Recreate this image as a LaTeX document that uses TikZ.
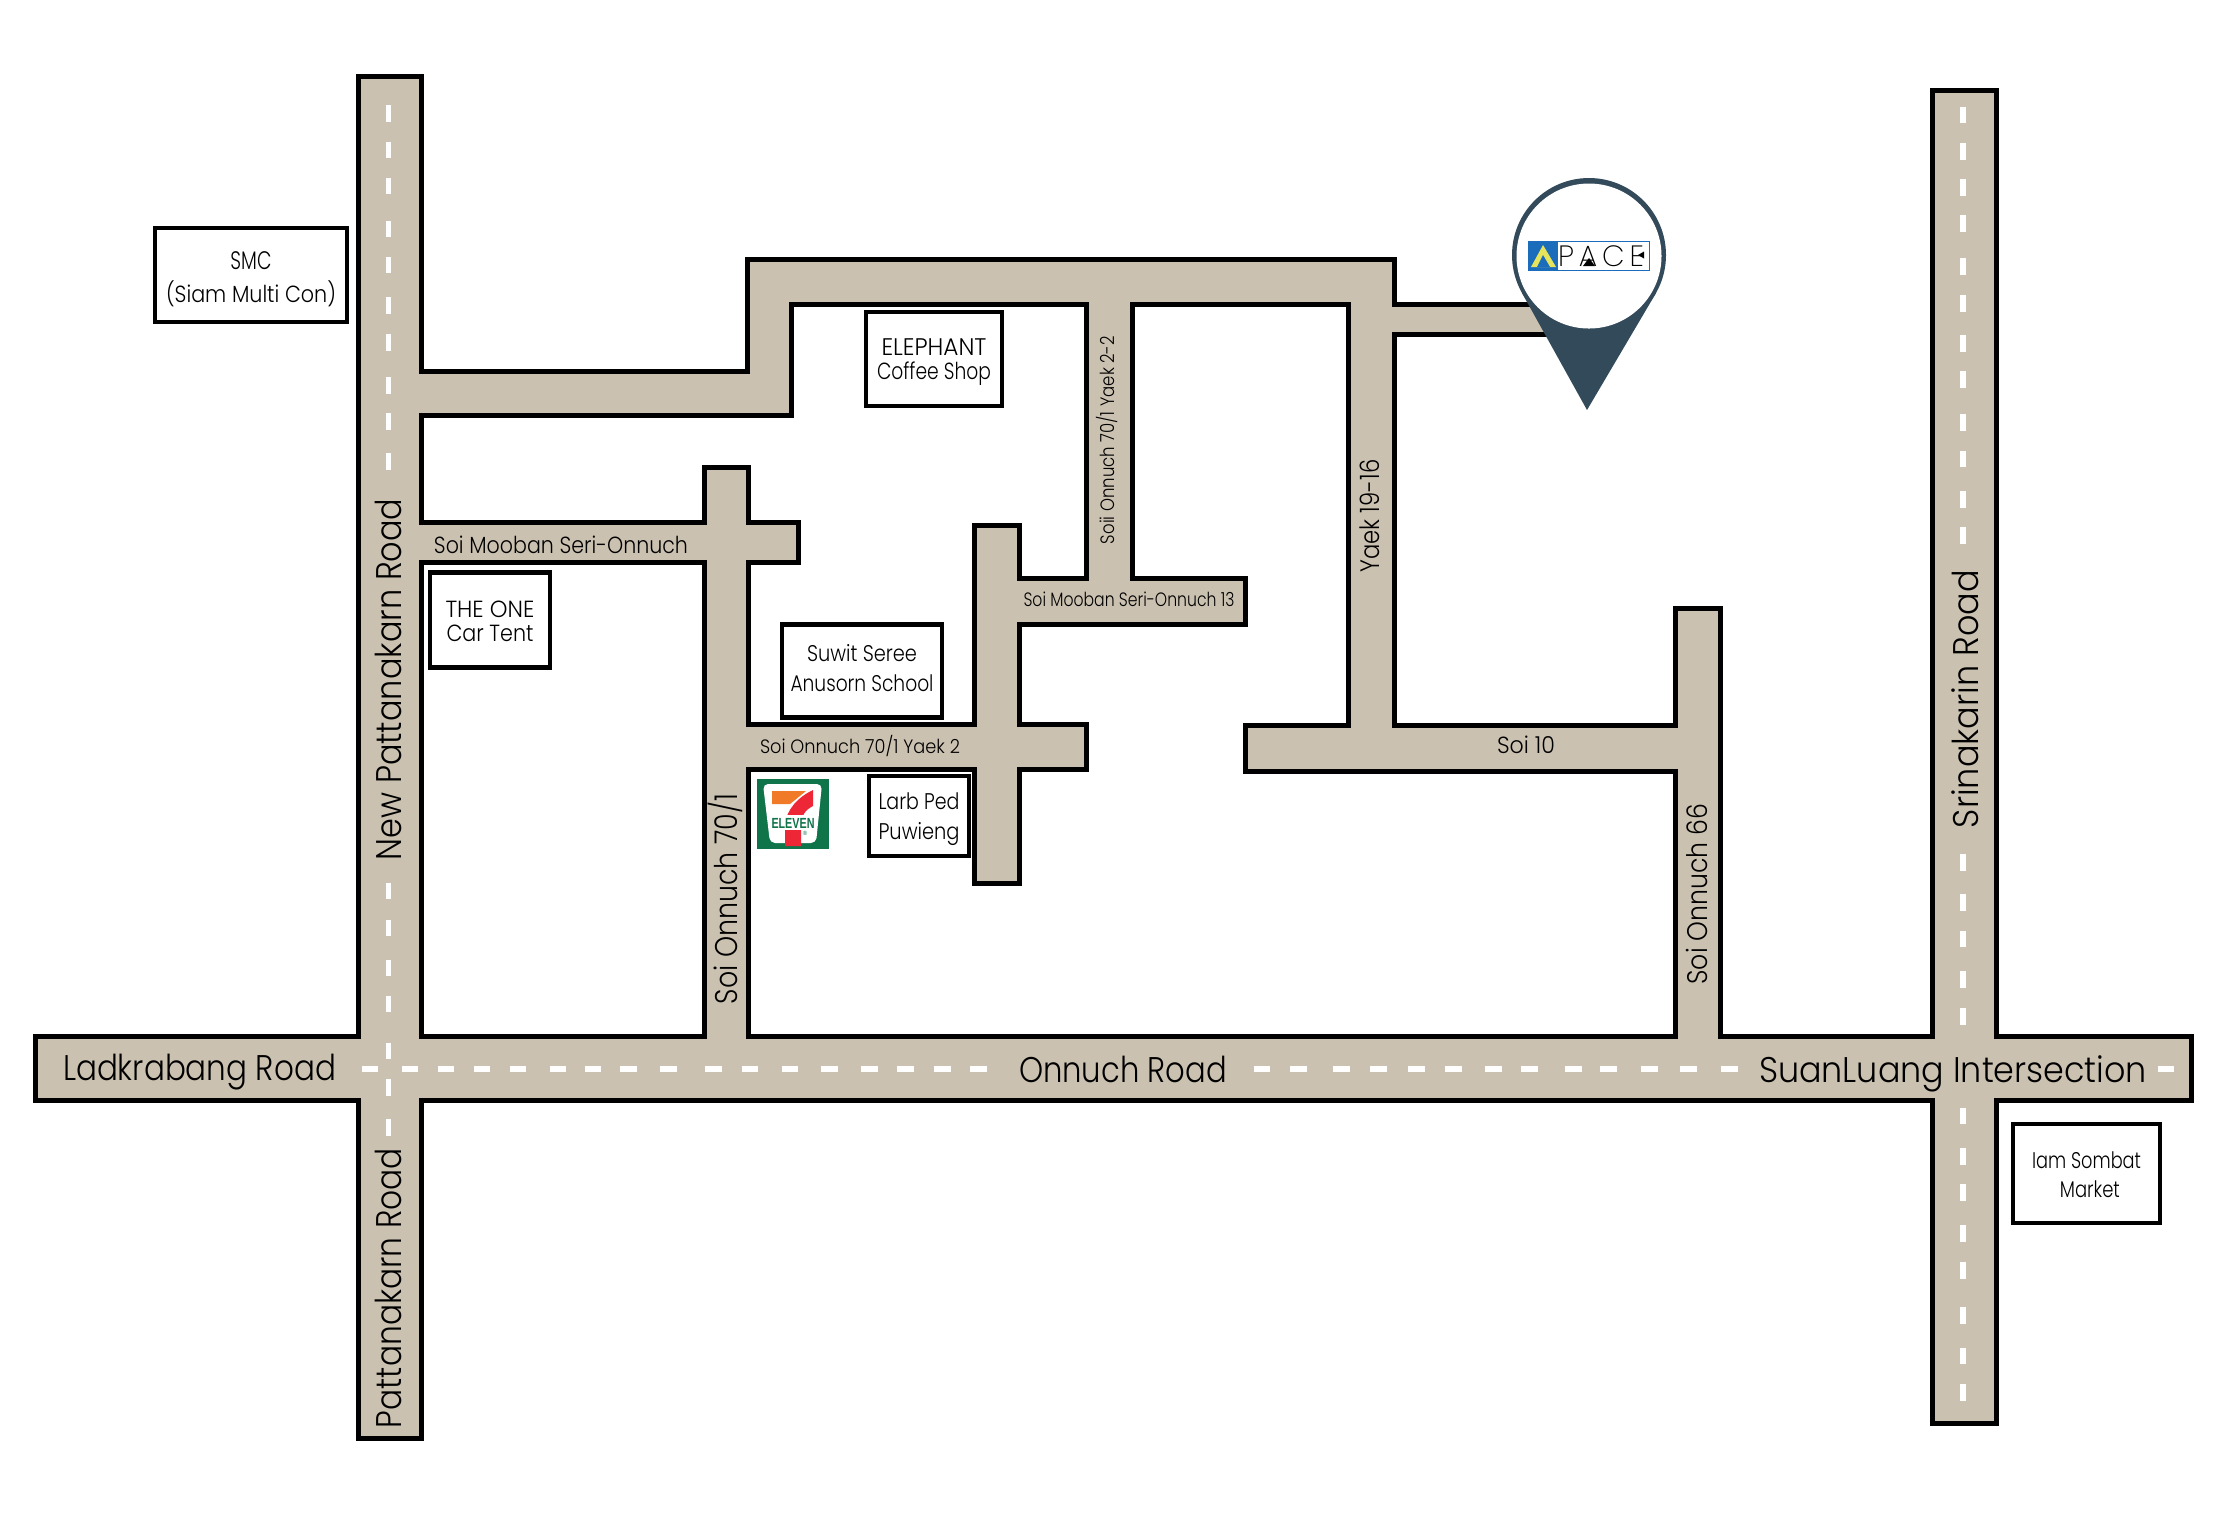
\documentclass[tikz,border=0pt]{standalone}
\usepackage{graphicx}
\usepackage{fontspec}
\setmainfont{Poppins}[UprightFont=*-Light,BoldFont=*-Medium]
\newfontfamily\logofont{Liberation Sans}
\newfontfamily\thinfont{Poppins}[UprightFont=*-ExtraLight]
\lineskiplimit=-30pt
\newsavebox\fitbox
\newlength\fitH
\newlength\fitW
% #1 width in picture px, #2 font size in pt, #3 text
\newcommand{\fit}[3]{{\fontsize{#2}{#2}\selectfont
  \sbox\fitbox{#3}\setlength\fitH{\ht\fitbox}\addtolength\fitH{\dp\fitbox}%
  \setlength\fitW{#1pt}\setlength\fitW{0.3\fitW}%
  \resizebox*{\fitW}{\fitH}{\usebox\fitbox}}}
\definecolor{roadtan}{HTML}{CBC1B0}
\definecolor{pinblue}{HTML}{334A5B}
\definecolor{sevengreen}{HTML}{0F7449}
\definecolor{sevenorange}{HTML}{F07A28}
\definecolor{sevenred}{HTML}{EE2737}
\definecolor{logoblue}{HTML}{1C6CBC}
\definecolor{logoyellow}{HTML}{E6E45A}
\tikzset{
  x=0.3pt,y=-0.3pt,
  roadedge/.style={draw=black,line width=1.5pt,fill=roadtan,line join=miter},
  roadfill/.style={fill=roadtan},
  lanemark/.style={draw=white,line width=1.6pt},
  placebox/.style={draw=black,line width=1.4pt,fill=white,inner sep=0pt,outer sep=0pt},
  placetext/.style={inner sep=0pt,outer sep=0pt,align=center,text=black},
  roadname/.style={anchor=base,inner sep=0pt,text=black},
  sideways/.style={roadname,rotate=90},
}
\def\roadlist{358/76/421/1438, 35/1036/2191/1100, 1932/90/1996/1423,
  400/371/791/415, 747/259/791/415, 747/259/1393/304, 1348/259/1394/771,
  1370/304/1600/334, 400/522/798/562, 704/467/748/1060, 720/724/1086/769,
  974/525/1019/883, 1000/578/1245/624, 1086/280/1132/600, 1245/725/1700/771,
  1675/608/1720/1060}
\begin{document}
\begin{tikzpicture}
\useasboundingbox (0,0) rectangle (2219,1525);
\fill[white] (0,0) rectangle (2219,1525);
% roads: edges first, then the insides, so crossings stay open
\foreach \a/\b/\c/\d in \roadlist {\draw[roadedge] (\a,\b) rectangle (\c,\d);}
\foreach \a/\b/\c/\d in \roadlist {\fill[roadfill] (\a+2.5,\b+2.5) rectangle (\c-2.5,\d-2.5);}
% lane marks, New Pattanakarn / Pattanakarn Road
\foreach \p/\q in {105/122,142/158,178/194,221/237,257/273,297/314,334/351,377/394,413/430,453/470,
  883/899,920/936,960/976,996/1012,1043/1059,1079/1096,1119/1136}
  {\draw[lanemark] (388.5,\p) -- (388.5,\q);}
% lane marks, Srinakarin Road
\foreach \p/\q in {107/123,143/160,179/196,215/232,258/275,295/312,335/352,371/388,414/431,451/467,491/508,527/544,
  854/871,894/911,931/947,971/988,1008/1025,1108/1124,1148/1165,1184/1201,1225/1242,1262/1279,1307/1324,1348/1364,1384/1401}
  {\draw[lanemark] (1963,\p) -- (1963,\q);}
% lane marks, Onnuch Road
\foreach \p/\q in {362/378,402/418,438/454,474/490,510/526,550/566,585/601,620/637,660/677,705/722,742/758,782/798,821/838,861/878,897/914,934/951,970/987,
  1254/1270,1290/1307,1333/1350,1370/1387,1408/1425,1445/1462,1485/1502,1521/1538,1565/1582,1600/1617,1641/1658,1680/1697,1721/1738,2158/2174}
  {\draw[lanemark] (\p,1069) -- (\q,1069);}
% road names
\node[roadname] (ladkrabang) at (199.5,1080.5) {\fit{273}{10.7}{Ladkrabang Road}};
\node[roadname] (onnuch) at (1123,1082) {\fit{208}{10.7}{Onnuch Road}};
\node[roadname] (suanluang) at (1953,1082) {\fit{388}{10.7}{SuanLuang Intersection}};
\node[sideways] (newpatt) at (401,679.5) {\fit{362}{10.7}{New Pattanakarn Road}};
\node[sideways] (patt) at (401,1288) {\fit{280}{10.7}{Pattanakarn Road}};
\node[sideways] (srinakarin) at (1978,699) {\fit{258}{10.7}{Srinakarin Road}};
\node[sideways] (soi701) at (737.5,899) {\fit{210}{9.4}{Soi Onnuch 70/1}};
\node[sideways] (soi66) at (1707,894) {\fit{181}{8.5}{Soi Onnuch 66}};
\node[sideways] (yaek1916) at (1379.5,516) {\fit{113}{8}{Yaek 19-16}};
\node[sideways] (soii) at (1114,440) {\fit{208}{5.8}{Soii Onnuch 70/1 Yaek 2-2}};
\node[roadname] (mooban) at (561,553) {\fit{254}{7}{Soi Mooban Seri-Onnuch}};
\node[roadname] (mooban13) at (1129,606) {\fit{211}{5.8}{Soi Mooban Seri-Onnuch 13}};
\node[roadname] (yaek2) at (860,753) {\fit{200}{5.8}{Soi Onnuch 70/1 Yaek 2}};
\node[roadname] (soi10) at (1526,753) {\fit{58}{7}{Soi 10}};
% places
\node[placebox,minimum width=57.6pt,minimum height=28.2pt,
  label={[placetext,yshift=-1.27pt,font=\fontsize{7}{9.9}\selectfont]center:{\fit{41}{7.6}{SMC}\\\fit{170}{7}{(Siam Multi Con)}}}] (smc) at (251,275) {};
\node[placebox,minimum width=40.8pt,minimum height=28.2pt,
  label={[placetext,yshift=-0.85pt,font=\fontsize{7}{7.2}\selectfont]center:{\fit{105}{7.2}{ELEPHANT}\\\fit{114}{7}{Coffee Shop}}}] (elephant) at (934,359) {};
\node[placebox,minimum width=36pt,minimum height=28.4pt,
  label={[placetext,yshift=-0.4pt,font=\fontsize{7}{7}\selectfont]center:{\fit{89}{7}{THE ONE}\\\fit{87}{7}{Car Tent}}}] (theone) at (490,620) {};
\node[placebox,minimum width=48pt,minimum height=28pt,
  label={[placetext,yshift=0.85pt,font=\fontsize{7}{9}\selectfont]center:{\fit{110}{6.8}{Suwit Seree}\\\fit{143}{6.8}{Anusorn School}}}] (suwit) at (862,671) {};
\node[placebox,minimum width=30pt,minimum height=24pt,
  label={[placetext,yshift=-0.85pt,font=\fontsize{7}{9}\selectfont]center:{\fit{81}{6.8}{Larb Ped}\\\fit{81}{6.8}{Puwieng}}}] (larb) at (919,816) {};
\node[placebox,minimum width=44.1pt,minimum height=29.7pt,
  label={[placetext,yshift=-0.4pt,font=\fontsize{7}{8.7}\selectfont]center:{\fit{109}{6.8}{Iam Sombat}\\\hspace*{2pt}\fit{60}{6.8}{Market}}}] (iam) at (2086.5,1173.5) {};
% 7-Eleven sign
\fill[sevengreen] (757,779) rectangle (829,849);
\fill[white,rounded corners=1.5pt] (763,784) -- (822,784) -- (816,843) -- (770,843) -- cycle;
\fill[sevenorange] (772,791) -- (806,791) -- (790,804) -- (772,804) -- cycle;
\fill[sevenred] (813,790) -- (813,806) .. controls (805,810) and (801,816) .. (801,826)
  -- (801,846) -- (785,846) -- (785,825) .. controls (786,810) and (798,797) .. (813,790) -- cycle;
\fill[white] (769,815) rectangle (816,830);
\node[roadname,text=sevengreen] (eleven) at (793,828) {\logofont\bfseries\fit{43}{4.4}{ELEVEN}};
\node[roadname,text=sevengreen] (regmark) at (805,835) {\logofont\fontsize{1.8}{2}\selectfont ®};
% location pin
\fill[pinblue] (1589,255) circle[radius=77];
\fill[pinblue] (1522,293) -- (1587,410) -- (1656,293) -- (1589,255) -- cycle;
\fill[white] (1589,256) circle[radius=72.5];
% logo
\draw[draw=logoblue,line width=0.3pt,fill=white] (1528,241) rectangle (1649,270);
\fill[logoblue] (1528,241) rectangle (1558,270);
\fill[logoyellow] (1543,245) -- (1556,267) -- (1531,267) -- cycle;
\fill[logoblue] (1543,255) -- (1550,267) -- (1537,267) -- cycle;
\node[roadname] (pace) at (1601,266) {\thinfont\fit{86}{8.8}{P\hspace{1.5pt}A\hspace{1.5pt}C\hspace{1.5pt}E}};
\fill[black] (1583,266) -- (1589,258) -- (1595,266) -- cycle;
\fill[black] (1638,255) -- (1644,251.5) -- (1644,258.5) -- cycle;
\end{tikzpicture}
\end{document}
